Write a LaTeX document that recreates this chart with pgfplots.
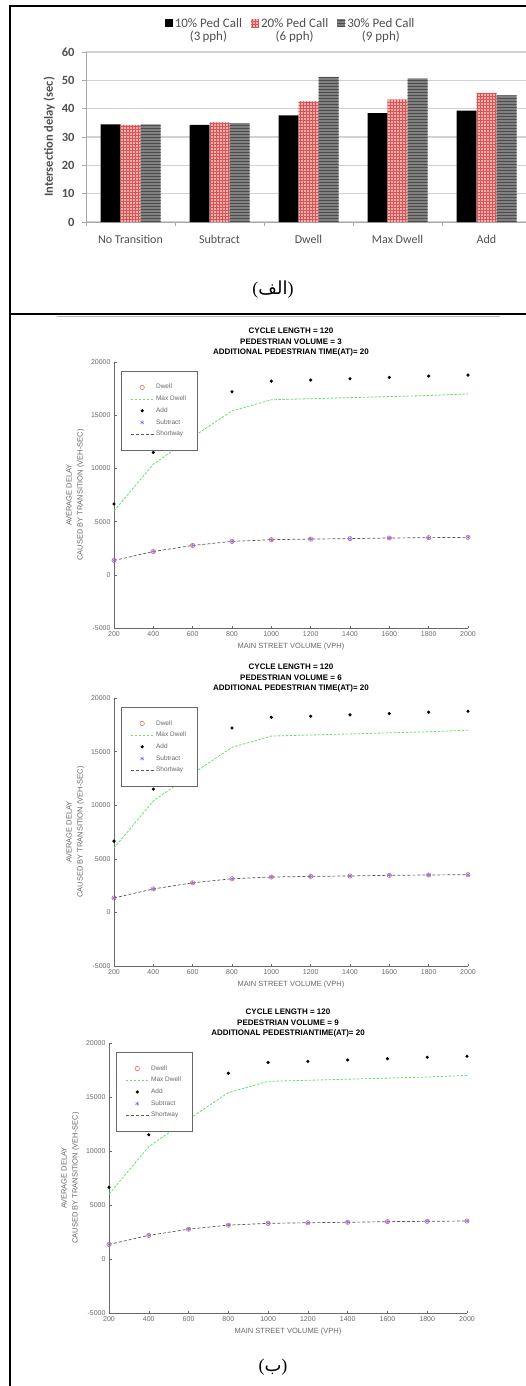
\documentclass[border=0pt]{standalone}
\usepackage{fontspec}
\usepackage{pgfplots}
\pgfplotsset{compat=1.18}
\usepackage{pgfplotstable}
\usetikzlibrary{patterns}
\TeXXeTstate=1
\setmainfont{Liberation Sans}
\newfontfamily\calibri{Carlito}
\newfontfamily\serifparen{Liberation Serif}
\newfontfamily\arabicfont[Script=Arabic]{DejaVu Sans}
\definecolor{barpink}{RGB}{240,175,175}
\definecolor{pinkline}{RGB}{215,85,85}
\definecolor{bargray}{RGB}{128,128,128}
\definecolor{gridgray}{RGB}{210,210,210}
\definecolor{txtgray}{RGB}{80,80,80}
\definecolor{mgreen}{RGB}{100,225,100}
\definecolor{mtext}{RGB}{105,105,105}
\definecolor{mred}{RGB}{230,90,90}
\definecolor{mblue}{RGB}{110,110,255}

\pgfplotstableread{
cat tenp twentyp thirtyp
0 34.5 34.3 34.5
1 34.3 35.2 34.9
2 37.6 42.6 51.2
3 38.4 43.2 50.7
4 39.3 45.6 44.7
}\bartable

\pgfplotstableread{
x dwell maxdwell add subtract shortway
200 1350 6000 6650 1350 1350
400 2190 10400 11500 2190 2190
600 2760 12950 14600 2760 2760
800 3140 15400 17200 3140 3140
1000 3300 16450 18200 3300 3300
1200 3360 16550 18300 3360 3360
1400 3400 16650 18430 3400 3400
1600 3460 16750 18550 3460 3460
1800 3490 16850 18680 3490 3490
2000 3520 17000 18770 3520 3520
}\linetable

\pgfplotsset{
 linepanel/.style={
  scale only axis, anchor=south west,
  xmin=200, xmax=2000, ymin=-5000, ymax=20000,
  xtick={200,400,...,2000}, ytick={-5000,0,5000,10000,15000,20000},
  scaled y ticks=false, scaled x ticks=false,
  axis x line*=bottom, axis y line*=left,
  axis line style={mtext, line width=0.6pt},
  tick style={mtext, line width=0.5pt},
  tick align=inside, major tick length=2.5pt,
  /pgf/number format/1000 sep={},
  /pgf/number format/assume math mode=true,
  ticklabel style={font=\fontsize{7}{7}\selectfont, text=mtext},
  xlabel={MAIN STREET VOLUME (VPH)},
  ylabel={AVERAGE DELAY\\CAUSED BY TRANSITION (VEH-SEC)},
  label style={font=\fontsize{7.5}{11}\selectfont, text=mtext, align=center},
  title style={font=\bfseries\fontsize{8}{10.5}\selectfont, align=center, yshift=-4pt},
  legend style={at={(0.02,0.966)}, anchor=north west, draw=mtext, fill=white,
    font=\fontsize{6.5}{6.5}\selectfont, text=mtext, inner xsep=9pt, inner ysep=11pt, row sep=1.5pt},
  legend cell align=left,
  legend image code/.code={\draw[mark repeat=2,mark phase=2,##1] plot coordinates {(0pt,0pt) (11.5pt,0pt) (23pt,0pt)};},
 },
}

\newcommand{\lineseries}{%
  \addplot[only marks, mark=o, mark size=2.2pt, color=mred, mark options={line width=0.5pt}] table[x=x,y=dwell]{\linetable};
  \addlegendentry{Dwell}
  \addplot[mgreen, line width=0.8pt, dash pattern=on 2.5pt off 1.5pt] table[x=x,y=maxdwell]{\linetable};
  \addlegendentry{Max Dwell}
  \addplot[only marks, mark=*, mark size=1.4pt, black] table[x=x,y=add]{\linetable};
  \addlegendentry{Add}
  \addplot[only marks, mark=asterisk, mark size=2pt, mblue, mark options={line width=0.5pt}] table[x=x,y=subtract]{\linetable};
  \addlegendentry{Subtract}
  \addplot[black!65, line width=0.7pt, dash pattern=on 3pt off 2pt] table[x=x,y=shortway]{\linetable};
  \addlegendentry{Shortway}
}

\begin{document}
\begin{tikzpicture}
\path[use as bounding box, clip] (0pt,0pt) rectangle (526pt,-1386pt);

% ---------- (a) bar chart ----------
\begin{axis}[
 at={(86pt,-222pt)}, anchor=south west, scale only axis,
 width=445pt, height=170pt,
 xmin=-0.5, xmax=4.5, ymin=0, ymax=60,
 ybar=0pt, bar width=20pt,
 xtick={-0.5,0.5,1.5,2.5,3.5,4.5},
 xticklabels={No Transition,Subtract,Dwell,Max Dwell,Add,{}},
 xticklabel style={xshift=44.5pt, yshift=-6pt, font=\calibri\fontsize{12}{12}\selectfont, text=txtgray},
 ytick={0,10,...,60},
 yticklabel style={font=\calibri\bfseries\fontsize{12.5}{12}\selectfont, text=txtgray, xshift=-4pt},
 /pgf/number format/assume math mode=true,
 ymajorgrids, grid style={gridgray, line width=1.2pt},
 axis x line*=bottom, axis y line*=left,
 axis line style={gridgray!80!black, line width=1pt},
 tick align=outside, major tick length=4pt,
 tick style={gridgray!80!black, line width=0.8pt},
 ylabel={Intersection delay (sec)},
 ylabel style={font=\calibri\bfseries\fontsize{12.5}{12}\selectfont, text=txtgray},
 legend columns=3,
 legend style={at={(0.452,1.13)}, anchor=center, draw=none, fill=none,
   font=\calibri\fontsize{13}{13}\selectfont, text=txtgray,
   cells={align=center}},
 legend image code/.code={\path (0pt,6pt) -- (0pt,6pt); \fill[#1] (7pt,2.5pt) rectangle (15pt,10.5pt);},
]
\addplot[fill=black, draw=none] table[x=cat,y=tenp]{\bartable};
\addlegendentry{10\% Ped Call\\(3\,pph)}
\addplot[fill=barpink, draw=none, postaction={pattern=grid, pattern color=pinkline}] table[x=cat,y=twentyp]{\bartable};
\addlegendentry{20\% Ped Call\\(6 pph)}
\addplot[fill=bargray, draw=none, postaction={pattern=horizontal lines, pattern color=bargray!60!black}] table[x=cat,y=thirtyp]{\bartable};
\addlegendentry{30\% Ped Call\\(9 pph)}
\end{axis}

\node[font=\fontsize{18}{18}\selectfont, inner sep=0pt] at (273pt,-290pt) {{\serifparen(}{\arabicfont\beginR الف\endR}{\serifparen)}};

% ---------- (b) line charts ----------
\begin{axis}[linepanel, at={(114pt,-628pt)}, width=354pt, height=266pt,
 title={CYCLE LENGTH = 120\\PEDESTRIAN VOLUME = 3\\ADDITIONAL PEDESTRIAN TIME(AT)= 20}]
\lineseries
\end{axis}

\begin{axis}[linepanel, at={(114pt,-966pt)}, width=354pt, height=268pt,
 title={CYCLE LENGTH = 120\\PEDESTRIAN VOLUME = 6\\ADDITIONAL PEDESTRIAN TIME(AT)= 20}]
\lineseries
\end{axis}

\begin{axis}[linepanel, at={(109pt,-1313pt)}, width=358pt, height=270pt,
 title={CYCLE LENGTH = 120\\PEDESTRIAN VOLUME = 9\\ADDITIONAL PEDESTRIANTIME(AT)= 20}]
\lineseries
\end{axis}

\node[font=\fontsize{18}{18}\selectfont, inner sep=0pt] at (273pt,-1367pt) {{\serifparen(}{\arabicfont\beginR ب\endR}{\serifparen)}};

% ---------- frame ----------
\draw[black, line width=2pt] (9pt,-6pt) -- (526pt,-6pt);
\draw[black, line width=2.5pt] (10pt,-5pt) -- (10pt,-1386pt);
\draw[black, line width=2pt] (9pt,-314pt) -- (526pt,-314pt);
\draw[gray!55, line width=1.2pt] (57pt,-316.5pt) -- (500pt,-316.5pt);
\end{tikzpicture}
\end{document}
